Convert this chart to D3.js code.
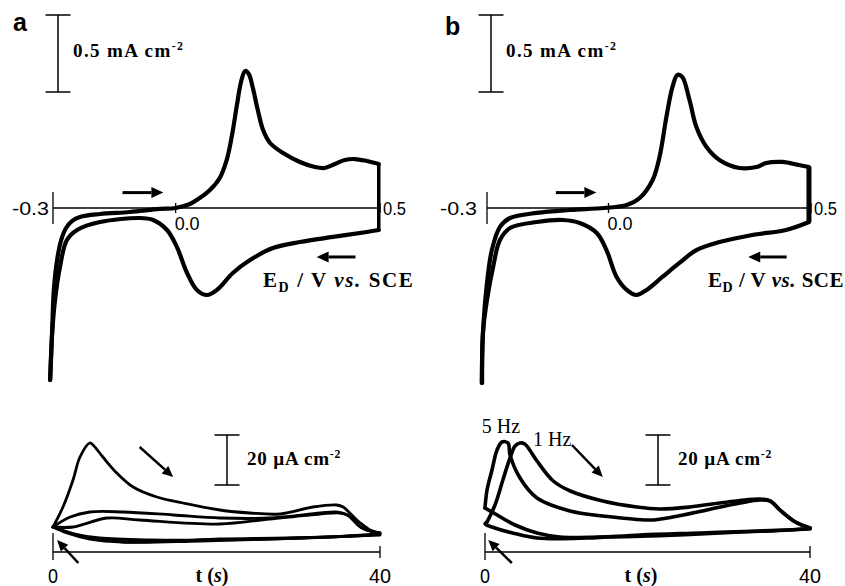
<!DOCTYPE html>
<html>
<head>
<meta charset="utf-8">
<script src="https://cdn.jsdelivr.net/npm/d3@7/dist/d3.min.js"></script>
<style>
  body { margin: 0; background: #fff; }
  svg { display: block; }
  .num { font-family: "Liberation Sans", Arial, sans-serif; fill: #000; }
  .ser { font-family: "Liberation Serif", "Times New Roman", serif; fill: #000; }
</style>
</head>
<body>
<svg id="chart" width="845" height="586"></svg>
<script>
// ---- cyclic voltammograms (E in V vs SCE, j in mA cm-2) ----
var cvTicks = [-0.3, 0.0, 0.5];

var aFwdE = [-0.307, -0.302, -0.298, -0.290, -0.280, -0.268, -0.253, -0.234, -0.185, -0.112, -0.039, 0.0, 0.035, 0.059, 0.084, 0.108, 0.125, 0.138, 0.150, 0.160, 0.170, 0.179, 0.189, 0.201, 0.214, 0.231, 0.263, 0.304, 0.341, 0.365, 0.390, 0.414, 0.439, 0.468, 0.497];
var aFwdJ = [-1.117, -0.792, -0.532, -0.338, -0.208, -0.130, -0.084, -0.058, -0.039, -0.026, -0.006, 0, 0.026, 0.065, 0.117, 0.195, 0.312, 0.474, 0.669, 0.818, 0.890, 0.870, 0.779, 0.636, 0.506, 0.422, 0.357, 0.299, 0.266, 0.260, 0.286, 0.312, 0.318, 0.305, 0.286];
var aRevE = [0.497, 0.468, 0.385, 0.304, 0.238, 0.182, 0.140, 0.101, 0.077, 0.052, 0.028, 0.003, -0.021, -0.055, -0.087, -0.185, -0.241, -0.266, -0.283, -0.295, -0.302, -0.307];
var aRevJ = [-0.143, -0.156, -0.188, -0.221, -0.260, -0.338, -0.422, -0.532, -0.565, -0.532, -0.422, -0.253, -0.143, -0.078, -0.065, -0.091, -0.143, -0.208, -0.383, -0.597, -0.812, -1.117];

var bFwdE = [-0.313, -0.310, -0.300, -0.288, -0.268, -0.243, -0.177, -0.096, -0.010, 0.045, 0.077, 0.109, 0.126, 0.143, 0.158, 0.170, 0.182, 0.200, 0.217, 0.242, 0.274, 0.323, 0.365, 0.389, 0.429, 0.470, 0.495];
var bFwdJ = [-1.136, -0.812, -0.487, -0.273, -0.123, -0.065, -0.032, -0.013, 0, 0.019, 0.065, 0.182, 0.331, 0.591, 0.786, 0.864, 0.851, 0.701, 0.526, 0.396, 0.312, 0.260, 0.266, 0.292, 0.299, 0.279, 0.266];
var bRevE = [0.495, 0.438, 0.355, 0.274, 0.217, 0.175, 0.133, 0.094, 0.069, 0.045, 0.020, -0.005, -0.029, -0.071, -0.113, -0.177, -0.243, -0.268, -0.285, -0.300, -0.310, -0.312];
var bRevJ = [-0.091, -0.143, -0.175, -0.221, -0.273, -0.357, -0.448, -0.532, -0.565, -0.532, -0.448, -0.273, -0.162, -0.097, -0.078, -0.091, -0.130, -0.208, -0.383, -0.597, -0.812, -1.136];

// ---- current transients (t in s, j in uA cm-2 above the baseline) ----
var tTicks = [0, 40];

var la1UpT = [0, 1.22, 2.45, 3.3, 4.5, 4.9, 6.1, 7.8, 9.8, 12.7, 15.9, 20.4, 24.1, 27.8, 31.8, 34.7, 35.5, 36.3, 37.6, 38.8, 40];
var la1UpJ = [10, 18, 28.8, 38, 43.6, 42.8, 38, 31.6, 26, 22, 19.6, 16.8, 15.6, 15.2, 18, 18.8, 18, 15.6, 11.6, 8.8, 7.6];
var la1LoT = [40, 36.7, 28.6, 20.4, 14.7, 8.6, 4.5, 1.7, 0];
var la1LoJ = [7.2, 6.4, 5.6, 5.2, 4.4, 4, 5.2, 7.6, 10];
var la2UpT = [0, 2.1, 4.5, 8.6, 14.7, 20.4, 26.5, 32.7, 34.7, 36, 37.6, 39.1, 40];
var la2UpJ = [10, 14, 16, 16, 14.8, 13.6, 13.6, 15.6, 16, 14.8, 10, 8, 7.6];
var la2LoT = [40, 33.9, 26.5, 18, 11.9, 5.7, 2.7, 0];
var la2LoJ = [7.2, 6, 5.2, 4.8, 4.8, 5.6, 7.2, 10];
var la3UpT = [0, 2.45, 6.6, 10.6, 20.4, 26.5, 32.7, 35.1, 36.3, 37.8, 40];
var la3UpJ = [10, 10, 13.6, 12.8, 11.2, 13.2, 15.2, 15.6, 14.4, 9.6, 7.6];
var la3LoT = [40, 30.2, 18, 8.6, 3.3, 0];
var la3LoJ = [6.8, 5.6, 4.4, 4, 6.4, 10];

var b5UpT = [0, 0.25, 0.86, 1.48, 2.09, 2.83, 3.08, 4.31, 6.4, 10.46, 14.52, 20.3, 23.1, 27.3, 31.4, 33.8, 35.1, 36.3, 38.2, 40];
var b5UpJ = [17.6, 24.8, 32.8, 40.8, 44, 43.6, 38.8, 29.6, 21.6, 16.4, 14.4, 12.8, 14, 16.8, 19.6, 20.8, 20.4, 16.8, 12, 9.6];
var b5LoT = [40, 37.5, 31.4, 26.5, 20.3, 14.2, 9.2, 6.4, 3.7, 1.5, 0];
var b5LoJ = [9.6, 8.8, 8, 7.2, 6.4, 6, 6, 7.6, 10.8, 14.8, 17.6];
var b1UpT = [0.25, 1.23, 2.2, 3.08, 3.7, 4.3, 4.9, 5.5, 6.4, 8.4, 10.5, 14.5, 18.7, 21.5, 25.2, 28.9, 32, 33.8, 35.1, 36.3, 38.2, 40];
var b1UpJ = [12, 18.8, 28.8, 37.6, 42.4, 43.6, 43.2, 40.8, 36.4, 28.4, 24.4, 20.4, 18, 17.2, 18, 19.6, 20.8, 21.2, 20.4, 16.8, 12, 9.6];
var b1LoT = [40, 33.8, 26.5, 19.1, 12.6, 6.4, 3.4, 1.2, 0, 0.25];
var b1LoJ = [9.2, 8.4, 7.6, 6.8, 5.6, 5.6, 7.6, 9.6, 11.2, 12];

var svg = d3.select("#chart");

function arrow(g, x1, y1, x2, y2, w, hl, hw) {
    var ang = Math.atan2(y2 - y1, x2 - x1);
    var bx = x2 - hl * Math.cos(ang), by = y2 - hl * Math.sin(ang);
    g.append("line")
        .attr("x1", x1).attr("y1", y1).attr("x2", bx).attr("y2", by)
        .attr("stroke", "#000").attr("stroke-width", w);
    var px = -Math.sin(ang) * hw / 2, py = Math.cos(ang) * hw / 2;
    g.append("path")
        .attr("d", "M" + x2 + "," + y2 + "L" + (bx + px) + "," + (by + py) + "L" + (bx - px) + "," + (by - py) + "Z")
        .attr("fill", "#000");
}

function unitLabel(g, x, y, txt, size) {
    var t = g.append("text").attr("class", "ser").attr("x", x).attr("y", y)
        .style("font-size", size + "px").style("font-weight", "bold");
    t.append("tspan").text(txt);
    t.append("tspan").attr("dy", -7).style("font-size", (size * 0.62) + "px").text("-2");
    return t;
}

function scaleBar(g, x, yTop, len, cap) {
    g.append("line").attr("x1", x).attr("x2", x).attr("y1", yTop).attr("y2", yTop + len)
        .attr("stroke", "#000").attr("stroke-width", 1.5);
    [yTop, yTop + len].forEach(function (yy) {
        g.append("line").attr("x1", x - cap).attr("x2", x + cap).attr("y1", yy).attr("y2", yy)
            .attr("stroke", "#000").attr("stroke-width", 1.5);
    });
}

function drawCV(cfg) {
    var g = svg.append("g");
    var x = d3.scaleLinear().domain([-0.3, 0.5]).range(cfg.xr);
    var y = d3.scaleLinear().domain([0, 1]).range([208, 54]);
    var line = d3.line().x(d => x(d[0])).y(d => y(d[1])).curve(d3.curveCatmullRom.alpha(0.5));

    // axis
    g.append("line").attr("x1", x(-0.3)).attr("x2", x(0.5)).attr("y1", y(0)).attr("y2", y(0))
        .attr("stroke", "#000").attr("stroke-width", 1.3);
    cvTicks.forEach(function (v, i) {
        var h = i === 0 ? 16 : 5;
        g.append("line").attr("x1", x(v)).attr("x2", x(v)).attr("y1", y(0) - h).attr("y2", y(0) + h)
            .attr("stroke", "#000").attr("stroke-width", 1.3);
    });
    g.append("text").attr("class", "num").attr("x", x(-0.3) - cfg.lgap).attr("y", y(0) + 7)
        .attr("text-anchor", "end").style("font-size", "19px")
        .attr("textLength", 37).attr("lengthAdjust", "spacingAndGlyphs").text("-0.3");
    g.append("text").attr("class", "num").attr("x", x(0) - 1).attr("y", y(0) + 22)
        .style("font-size", "19px")
        .attr("textLength", 25).attr("lengthAdjust", "spacingAndGlyphs").text("0.0");
    g.append("text").attr("class", "num").attr("x", x(0.5) + 3).attr("y", y(0) + 7)
        .style("font-size", "19px")
        .attr("textLength", 23).attr("lengthAdjust", "spacingAndGlyphs").text("0.5");

    // curve
    var fwd = d3.zip(cfg.fE, cfg.fJ), rev = d3.zip(cfg.rE, cfg.rJ);
    var st = { fill: "none", stroke: "#000", "stroke-width": 4.2, "stroke-linejoin": "round", "stroke-linecap": "round" };
    [fwd, rev].forEach(function (d) {
        var p = g.append("path").attr("d", line(d));
        Object.keys(st).forEach(k => p.attr(k, st[k]));
    });
    g.append("line")
        .attr("x1", x(fwd[fwd.length - 1][0])).attr("y1", y(fwd[fwd.length - 1][1]))
        .attr("x2", x(rev[0][0])).attr("y2", y(rev[0][1]))
        .attr("stroke", "#000").attr("stroke-width", cfg.vw);

    // scale bar 0.5 mA cm-2
    scaleBar(g, cfg.sbx, 15, y(0) - y(0.5), 12.5);
    unitLabel(g, cfg.sbx + 15, 57, "0.5 mA cm", 19).attr("letter-spacing", 1.4);

    // sweep arrows
    arrow(g, x(-0.13), y(0.1), x(-0.03), y(0.1), 3, 12, 11);
    arrow(g, x(0.44), y(-0.318), x(0.345), y(-0.318), 3, 12, 11);

    // axis title
    var t = g.append("text").attr("class", "ser").attr("x", cfg.ex).attr("y", 287)
        .style("font-size", "21px").style("font-weight", "bold").attr("letter-spacing", cfg.els);
    t.append("tspan").text("E");
    t.append("tspan").attr("dy", 5).style("font-size", "14px").text("D");
    t.append("tspan").attr("dy", -5).text(" / V ");
    t.append("tspan").style("font-style", "italic").text("vs.");
    t.append("tspan").text(" SCE");

    // panel letter
    g.append("text").attr("class", "num").attr("x", cfg.lx).attr("y", cfg.ly)
        .style("font-size", "25px").style("font-weight", "bold").text(cfg.letter);
}

function drawTransient(cfg) {
    var g = svg.append("g");
    var x = d3.scaleLinear().domain([0, 40]).range(cfg.xr);
    var y = d3.scaleLinear().domain([0, 20]).range([552, 502]);
    var line = d3.line().x(d => x(d[0])).y(d => y(d[1])).curve(d3.curveCatmullRom.alpha(0.5));

    g.append("line").attr("x1", x(0)).attr("x2", x(40)).attr("y1", y(0)).attr("y2", y(0))
        .attr("stroke", "#000").attr("stroke-width", 1.3);
    g.append("line").attr("x1", x(0)).attr("x2", x(0)).attr("y1", y(0) - 19).attr("y2", y(0) + 8)
        .attr("stroke", "#000").attr("stroke-width", 1.3);
    g.append("line").attr("x1", x(40)).attr("x2", x(40)).attr("y1", y(0) - 6).attr("y2", y(0) + 6)
        .attr("stroke", "#000").attr("stroke-width", 1.3);
    tTicks.forEach(function (v) {
        g.append("text").attr("class", "num").attr("x", x(v)).attr("y", 583)
            .attr("text-anchor", "middle").style("font-size", "20px")
            .attr("textLength", v === 0 ? 10 : 22).attr("lengthAdjust", "spacingAndGlyphs").text(v);
    });

    cfg.curves.forEach(function (c) {
        g.append("path").attr("d", line(d3.zip(c[0], c[1])))
            .attr("fill", "none").attr("stroke", "#000").attr("stroke-width", cfg.sw)
            .attr("stroke-linejoin", "round").attr("stroke-linecap", "round");
    });

    scaleBar(g, cfg.sbx, 435, y(0) - y(20), 12.5);
    unitLabel(g, cfg.sbx + 20, 465, "20 \u00b5A cm", 19).attr("letter-spacing", 0.8);

    var t = g.append("text").attr("class", "ser").attr("x", cfg.tx).attr("y", 582)
        .attr("text-anchor", "middle").style("font-size", "20px").style("font-weight", "bold");
    t.append("tspan").text("t (");
    t.append("tspan").style("font-style", "italic").text("s");
    t.append("tspan").text(")");

    cfg.arrows.forEach(function (a) {
        arrow(g, x(a[0]), y(a[1]), x(a[2]), y(a[3]), 2.5, 11, 10);
    });
    return { g: g, x: x, y: y };
}

drawCV({ xr: [53, 380], fE: aFwdE, fJ: aFwdJ, rE: aRevE, rJ: aRevJ, vw: 3.5,
    sbx: 58, ex: 263, els: 1.6, lx: 13, ly: 31, letter: "a", lgap: 4 });
drawCV({ xr: [487, 811], fE: bFwdE, fJ: bFwdJ, rE: bRevE, rJ: bRevJ, vw: 5,
    sbx: 491, ex: 708, els: 0.5, lx: 445, ly: 35, letter: "b", lgap: 10 });

drawTransient({ xr: [53, 380], sw: 2.8, sbx: 227, tx: 212,
    curves: [[la1UpT, la1UpJ], [la1LoT, la1LoJ], [la2UpT, la2UpJ], [la2LoT, la2LoJ], [la3UpT, la3UpJ], [la3LoT, la3LoJ]],
    arrows: [[10.6, 42, 14.7, 30], [3.1, -4.4, 0.5, 4.8]] });
var tb = drawTransient({ xr: [485, 810], sw: 3.6, sbx: 658, tx: 641,
    curves: [[b5UpT, b5UpJ], [b5LoT, b5LoJ], [b1UpT, b1UpJ], [b1LoT, b1LoJ]],
    arrows: [[10.7, 42.8, 14.5, 30], [3.3, -4.4, 0.4, 4.8]] });

// frequency labels
tb.g.append("text").attr("class", "ser").attr("x", tb.x(-0.4)).attr("y", 433)
    .style("font-size", "20px").text("5 Hz");
tb.g.append("text").attr("class", "ser").attr("x", tb.x(5.9)).attr("y", 446)
    .style("font-size", "20px").text("1 Hz");
</script>
</body>
</html>
